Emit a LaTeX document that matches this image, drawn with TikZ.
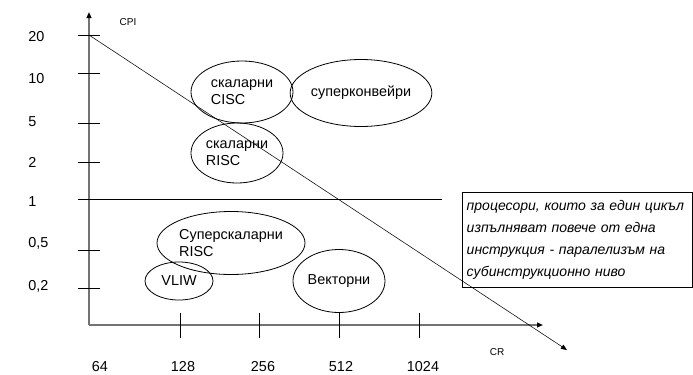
\documentclass[tikz,border=0pt]{standalone}
\usepackage{fontspec}
\setmainfont{Liberation Sans}
\usetikzlibrary{shapes.geometric,arrows.meta}

\tikzset{
  axis/.style={draw=black!55,line width=1.1pt,-{Triangle[length=4.5pt,width=3.6pt,color=black]}},
  tick/.style={draw=black,line width=0.6pt},
  oval/.style={draw,ellipse,inner sep=0pt,line width=0.6pt,align=left},
  lbl/.style={inner sep=0pt}
}

\begin{document}
\begin{tikzpicture}[x=0.75pt,y=-0.75pt,font=\fontsize{10.8}{13}\selectfont]
	\useasboundingbox (0,0) rectangle (693,375);

	% axes
	\coordinate (O) at (89,325);
	\coordinate (ytip) at (89,12);
	\coordinate (xtip) at (543,325);
	\draw [axis] (O) -- (ytip);
	\draw [axis] (O) -- (xtip);
	\node [lbl,font=\fontsize{7.5}{9}\selectfont] (cpi) at (128,22) {CPI};
	\node [lbl,font=\fontsize{7.5}{9}\selectfont] (cr) at (497,352) {CR};

	% CPI scale
	\foreach \y/\ly/\v [count=\i] in {35/37/20, 73/79/10, 123/122/5, 162/162/2, 250/243/{0,5}, 288/286/{0,2}}
	{
	  \draw [tick] (78,\y) -- (100,\y);
	  \node [lbl,anchor=west] (ylab\i) at (28,\ly) {\v};
	}
	\node [lbl,anchor=west] (yone) at (28,202) {1};
	\coordinate (oneL) at (78,199);
	\coordinate (oneR) at (442,199);
	\draw [line width=0.6pt] (oneL) -- (oneR);

	% CR scale
	\foreach \x/\lx/\v in {180/183/128, 259/263/256, 339/341/512, 419/423/1024}
	{
	  \draw [tick] (\x,313) -- (\x,338);
	  \node [lbl] (xlab\v) at (\lx,367) {\v};
	}
	\node [lbl] (xlab64) at (100,367) {64};

	% trend
	\coordinate (top) at (89,35);
	\coordinate (end) at (567,350);
	\draw [line width=0.4pt,-{Triangle[length=4.5pt,width=3.6pt]}] (top) -- (end);

	% processor classes
	\node [oval,minimum width=76.5pt,minimum height=46.5pt] (cisc) at (242,92) {скаларни\\CISC};
	\node [oval,minimum width=102.75pt,minimum height=50.25pt] (superpipe) at (361,93) {суперконвейри};
	\node [oval,minimum width=69pt,minimum height=45pt] (risc) at (237,153) {скаларни\\RISC};
	\node [oval,minimum width=111pt,minimum height=47.25pt] (superscalar) at (231,243) {Суперскаларни\\RISC};
	\node [oval,minimum width=51pt,minimum height=28.5pt] (vliw) at (179,281) {VLIW};
	\node [oval,minimum width=69pt,minimum height=47.25pt] (vector) at (339,281) {Векторни};

	\node [draw,line width=0.6pt,anchor=north west,minimum width=172.5pt,minimum height=71.25pt,
	       text width=166pt,inner sep=3pt,align=left,font=\itshape\fontsize{10.5}{16.5}\selectfont]
	  (note) at (462,192) {процесори, които за един цикъл\\изпълняват повече от една\\инструкция - паралелизъм на\\субинструкционно ниво};
\end{tikzpicture}
\end{document}
